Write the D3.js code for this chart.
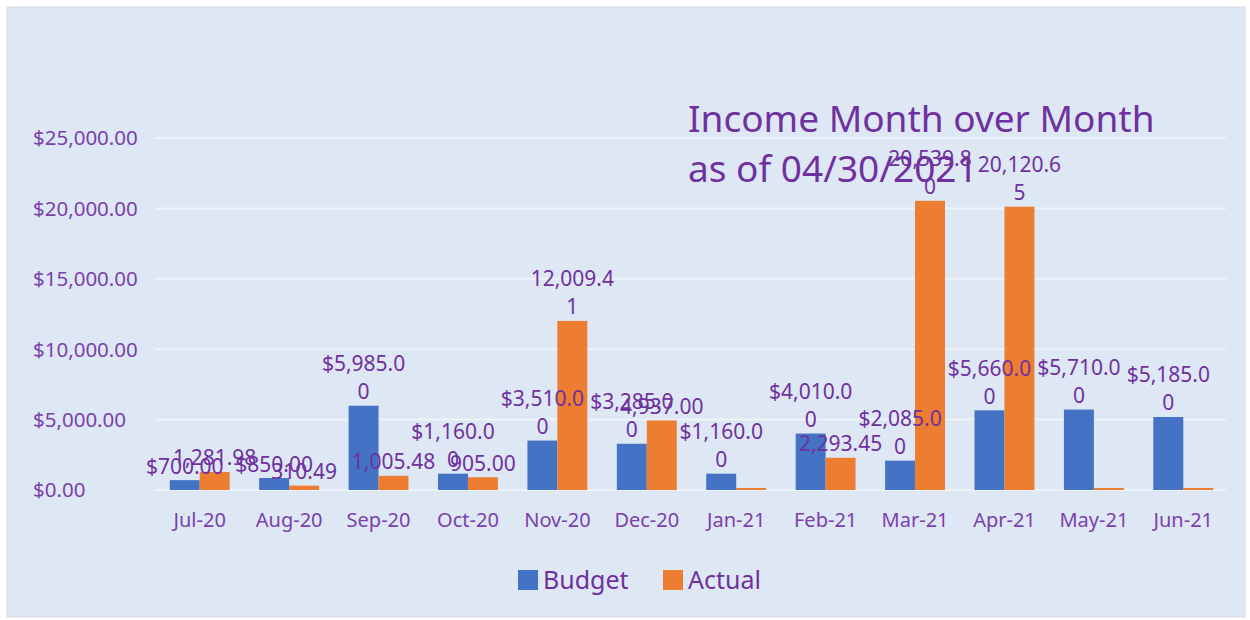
<!DOCTYPE html>
<html>
<head>
<meta charset="utf-8">
<script src="https://cdn.jsdelivr.net/npm/d3@7"></script>
<style>
  html, body { margin: 0; padding: 0; background: #ffffff; }
  svg { display: block; font-family: "Noto Sans", "DejaVu Sans", sans-serif; }
</style>
</head>
<body>
<svg id="chart" width="1250" height="620"></svg>
<script>
const months = ["Jul-20","Aug-20","Sep-20","Oct-20","Nov-20","Dec-20","Jan-21","Feb-21","Mar-21","Apr-21","May-21","Jun-21"];
const budget = [700, 850, 5985, 1160, 3510, 3285, 1160, 4010, 2085, 5660, 5710, 5185];
const actual = [1281.98, 310.49, 1005.48, 905.00, 12009.41, 4937.00, 0, 2293.45, 20539.80, 20120.65, 0, 0];
const seriesNames = ["Budget", "Actual"];
const yTicks = [0, 5000, 10000, 15000, 20000, 25000];
const titleLines = ["Income Month over Month", "as of 04/30/2021"];

const colors = { Budget: "#4472c4", Actual: "#ed7d31" };
const textColor = "#7030a0";

const svg = d3.select("#chart");

// panel background
svg.append("rect").attr("x", 7).attr("y", 7).attr("width", 1238).attr("height", 610)
  .attr("fill", "#dde8f4").attr("stroke", "#d3dbe4").attr("stroke-width", 1);

const x0 = d3.scaleBand().domain(months).range([155, 1228]).paddingInner(0.33).paddingOuter(0.165);
const x1 = d3.scaleBand().domain(seriesNames).range([0, x0.bandwidth()]);
const y = d3.scaleLinear().domain([0, 25000]).range([490, 138]);

// gridlines
svg.append("g").selectAll("line").data(yTicks).join("line")
  .attr("x1", 155).attr("x2", 1226)
  .attr("y1", d => y(d)).attr("y2", d => y(d))
  .attr("stroke", "#eef3f9").attr("stroke-width", 2);

// y tick labels (left aligned)
const fmtDollar = d3.format("$,.2f");
svg.append("g").selectAll("text").data(yTicks).join("text")
  .attr("x", 33).attr("y", d => y(d)).attr("dy", "0.36em")
  .attr("font-size", 20.5).attr("fill", "#7b3fae")
  .text(d => fmtDollar(d));

// x tick labels
const xAxis = d3.axisBottom(x0).tickSize(0).tickPadding(0);
const gx = svg.append("g").attr("transform", "translate(0,520)").call(xAxis);
gx.select(".domain").remove();
gx.selectAll("text").attr("font-size", 20).attr("fill", "#7b3fae")
  .attr("font-family", "Noto Sans").attr("dy", "0.36em");

// data
const rows = months.map((m, i) => ({ month: m, Budget: budget[i], Actual: actual[i] }));
const fmtPlain = d3.format(",.2f");

const groups = svg.append("g").selectAll("g").data(rows).join("g")
  .attr("transform", d => `translate(${x0(d.month)},0)`);

groups.selectAll("rect").data(d => seriesNames.map(k => ({ key: k, value: d[k] }))).join("rect")
  .attr("x", d => x1(d.key))
  .attr("width", x1.bandwidth())
  .attr("y", d => Math.min(y(d.value), y(0) - 2))
  .attr("height", d => Math.max(y(0) - y(d.value), 2))
  .attr("fill", d => colors[d.key]);

// data labels with wrapping like the original
function labelLines(d) {
  const s = d.key === "Budget" ? fmtDollar(d.value) : fmtPlain(d.value);
  if (s.length > 8) return [s.slice(0, 8), s.slice(8)];
  return [s];
}
const lineH = 28;
groups.each(function(row) {
  const g = d3.select(this);
  seriesNames.forEach(k => {
    const v = row[k];
    if (!v) return;
    const d = { key: k, value: v };
    const lines = labelLines(d);
    const cx = x1(k) + x1.bandwidth() / 2;
    const baseY = y(v) - 6.5;
    const t = g.append("text").attr("text-anchor", "middle")
      .attr("font-size", 21).attr("fill", textColor);
    lines.forEach((ln, i) => {
      t.append("tspan").attr("x", cx)
        .attr("y", baseY - (lines.length - 1 - i) * lineH)
        .text(ln);
    });
  });
});

// title
const title = svg.append("text").attr("x", 688).attr("fill", textColor).attr("font-size", 37);
titleLines.forEach((ln, i) => {
  title.append("tspan").attr("x", 688).attr("y", 132 + i * 50).text(ln);
});

// legend
const legend = svg.append("g");
const legendItems = [
  { key: "Budget", x: 518 },
  { key: "Actual", x: 663 }
];
legendItems.forEach(it => {
  legend.append("rect").attr("x", it.x).attr("y", 570).attr("width", 20).attr("height", 20)
    .attr("fill", colors[it.key]);
  legend.append("text").attr("x", it.x + 25).attr("y", 580).attr("dy", "0.36em")
    .attr("font-size", 25).attr("fill", textColor).text(it.key);
});
</script>
</body>
</html>
